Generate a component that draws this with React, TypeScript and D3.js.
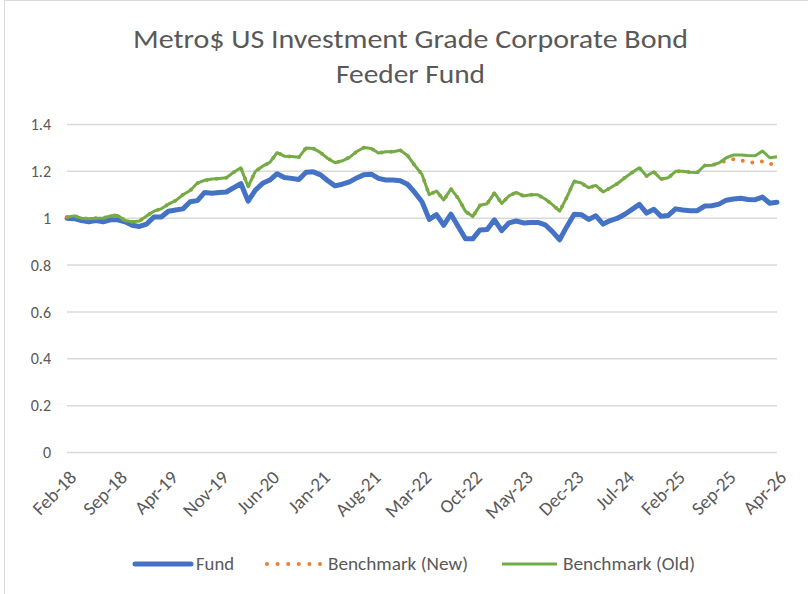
import React from "react";
import * as d3 from "d3";

const TITLE_LINES = ["Metro$ US Investment Grade Corporate Bond", "Feeder Fund"];

const START_MONTH = new Date(2018, 1, 1);
const MONTH_COUNT = 99;
const TICK_EVERY = 7;

const yTicks = [0, 0.2, 0.4, 0.6, 0.8, 1, 1.2, 1.4];

const fund = [
  1.0, 0.998, 0.99, 0.985, 0.99, 0.985, 0.993, 0.993, 0.985, 0.97,
  0.965, 0.975, 1.005, 1.005, 1.03, 1.035, 1.04, 1.07, 1.075, 1.11,
  1.107, 1.11, 1.112, 1.13, 1.148, 1.073, 1.12, 1.149, 1.163, 1.19,
  1.174, 1.17, 1.165, 1.196, 1.198, 1.185, 1.16, 1.138, 1.145, 1.155,
  1.172, 1.186, 1.188, 1.17, 1.163, 1.163, 1.16, 1.145, 1.11, 1.07,
  0.995, 1.015, 0.97, 1.017, 0.965, 0.912, 0.912, 0.95, 0.952, 0.993,
  0.947, 0.98, 0.988, 0.98, 0.982, 0.982, 0.972, 0.943, 0.908, 0.965,
  1.017, 1.015, 0.995, 1.01, 0.975, 0.99, 1.0, 1.017, 1.038, 1.059,
  1.022, 1.038, 1.008, 1.012, 1.04, 1.035, 1.032, 1.032, 1.052, 1.053,
  1.06, 1.077, 1.082, 1.085, 1.08, 1.079, 1.09, 1.064, 1.068,
];

const benchmarkNew = [
  1.005, 1.01, 1.0, 0.998, 1.0, 1.0, 1.01, 1.012, 0.99, 0.985,
  0.988, 1.01, 1.03, 1.04, 1.06, 1.075, 1.1, 1.118, 1.15, 1.162,
  1.167, 1.17, 1.173, 1.196, 1.215, 1.135, 1.2, 1.222, 1.238, 1.28,
  1.265, 1.263, 1.26, 1.3, 1.298, 1.28, 1.255, 1.237, 1.245, 1.26,
  1.285, 1.302, 1.298, 1.278, 1.284, 1.284, 1.29, 1.268, 1.225, 1.187,
  1.1, 1.116, 1.078, 1.125, 1.085, 1.03, 1.007, 1.055, 1.062, 1.108,
  1.063, 1.095, 1.11, 1.095, 1.1, 1.1, 1.082, 1.058, 1.03, 1.09,
  1.158, 1.15, 1.13, 1.14, 1.112, 1.13, 1.148, 1.173, 1.195, 1.215,
  1.18, 1.198, 1.167, 1.173, 1.2, 1.2, 1.196, 1.195, 1.225, 1.226,
  1.236, 1.245, 1.252, 1.247, 1.24, 1.237, 1.242, 1.235, 1.215,
];

const benchmarkOld = [
  1.005, 1.01, 1.0, 0.998, 1.0, 1.0, 1.01, 1.012, 0.99, 0.985,
  0.988, 1.01, 1.03, 1.04, 1.06, 1.075, 1.1, 1.118, 1.15, 1.162,
  1.167, 1.17, 1.173, 1.196, 1.215, 1.135, 1.2, 1.222, 1.238, 1.28,
  1.265, 1.263, 1.26, 1.3, 1.298, 1.28, 1.255, 1.237, 1.245, 1.26,
  1.285, 1.302, 1.298, 1.278, 1.284, 1.284, 1.29, 1.268, 1.225, 1.187,
  1.1, 1.116, 1.078, 1.125, 1.085, 1.03, 1.007, 1.055, 1.062, 1.108,
  1.063, 1.095, 1.11, 1.095, 1.1, 1.1, 1.082, 1.058, 1.03, 1.09,
  1.158, 1.15, 1.13, 1.14, 1.112, 1.13, 1.148, 1.173, 1.195, 1.215,
  1.18, 1.198, 1.167, 1.173, 1.2, 1.2, 1.196, 1.195, 1.225, 1.226,
  1.236, 1.258, 1.27, 1.27, 1.268, 1.267, 1.287, 1.258, 1.262,
];

const seriesNames = ["Fund", "Benchmark (New)", "Benchmark (Old)"];

const W = 808;
const H = 594;
const FONT = "Carlito, Lato, 'Liberation Sans', sans-serif";
const TEXT_COLOR = "#595959";

export default function App() {
  const months = d3.timeMonth.range(
    START_MONTH,
    d3.timeMonth.offset(START_MONTH, MONTH_COUNT)
  );
  const fmt = d3.timeFormat("%b-%y");
  const idx = d3.range(months.length);

  const x = d3.scaleLinear().domain([0, months.length - 1]).range([67, 777]);
  const y = d3.scaleLinear().domain([0, 1.4]).range([452.5, 124.5]);

  const line = d3
    .line<number>()
    .x((_, i) => x(i))
    .y((d) => y(d));

  const tickIdx = idx.filter((i) => i % TICK_EVERY === 0);

  return (
    <div style={{ position: "absolute", left: 0, top: 0 }}>
      <svg width={W} height={H} style={{ display: "block", background: "#fff" }}>
        <rect x={4.5} y={0.5} width={W + 10} height={H + 10} fill="#fff" stroke="#d9d9d9" strokeWidth={1} />
        <text
          x={410.5}
          y={48}
          textAnchor="middle"
          fontFamily={FONT}
          fontSize={26}
          fill={TEXT_COLOR}
          textLength={555}
          lengthAdjust="spacingAndGlyphs"
        >
          {TITLE_LINES[0]}
        </text>
        <text
          x={410.5}
          y={83}
          textAnchor="middle"
          fontFamily={FONT}
          fontSize={26}
          fill={TEXT_COLOR}
          textLength={149}
          lengthAdjust="spacingAndGlyphs"
        >
          {TITLE_LINES[1]}
        </text>

        {yTicks.map((t) => (
          <g key={t}>
            <line x1={67} x2={777} y1={y(t)} y2={y(t)} stroke="#d9d9d9" strokeWidth={1.5} />
            <text
              x={51}
              y={y(t)}
              dy="0.35em"
              textAnchor="end"
              fontFamily={FONT}
              fontSize={16}
              fill={TEXT_COLOR}
            >
              {d3.format("~g")(t)}
            </text>
          </g>
        ))}

        {tickIdx.map((i) => (
          <text
            key={i}
            transform={`translate(${x(i) + 1},${469}) rotate(-45)`}
            textAnchor="end"
            fontFamily={FONT}
            fontSize={19}
            fill={TEXT_COLOR}
            dy="0.72em"
          >
            {fmt(months[i])}
          </text>
        ))}

        <path d={line(fund) || ""} fill="none" stroke="#4472C4" strokeWidth={5} strokeLinejoin="round" strokeLinecap="round" />
        <path
          d={line(benchmarkNew) || ""}
          fill="none"
          stroke="#ED7D31"
          strokeWidth={4}
          strokeDasharray="0 9.7"
          strokeLinecap="round"
        />
        <path d={line(benchmarkOld) || ""} fill="none" stroke="#70AD47" strokeWidth={3} strokeLinejoin="round" />

        <g fontFamily={FONT} fontSize={18} fill={TEXT_COLOR}>
          <line x1={135} x2={191} y1={564} y2={564} stroke="#4472C4" strokeWidth={5} strokeLinecap="round" />
          <text x={196} y={564} dy="0.35em" textLength={38} lengthAdjust="spacingAndGlyphs">{seriesNames[0]}</text>
          <line x1={267} x2={322} y1={564} y2={564} stroke="#ED7D31" strokeWidth={4} strokeDasharray="0 10.6" strokeLinecap="round" />
          <text x={328} y={564} dy="0.35em" textLength={140} lengthAdjust="spacingAndGlyphs">{seriesNames[1]}</text>
          <line x1={502} x2={557} y1={564} y2={564} stroke="#70AD47" strokeWidth={3} />
          <text x={563} y={564} dy="0.35em" textLength={132} lengthAdjust="spacingAndGlyphs">{seriesNames[2]}</text>
        </g>
      </svg>
    </div>
  );
}
